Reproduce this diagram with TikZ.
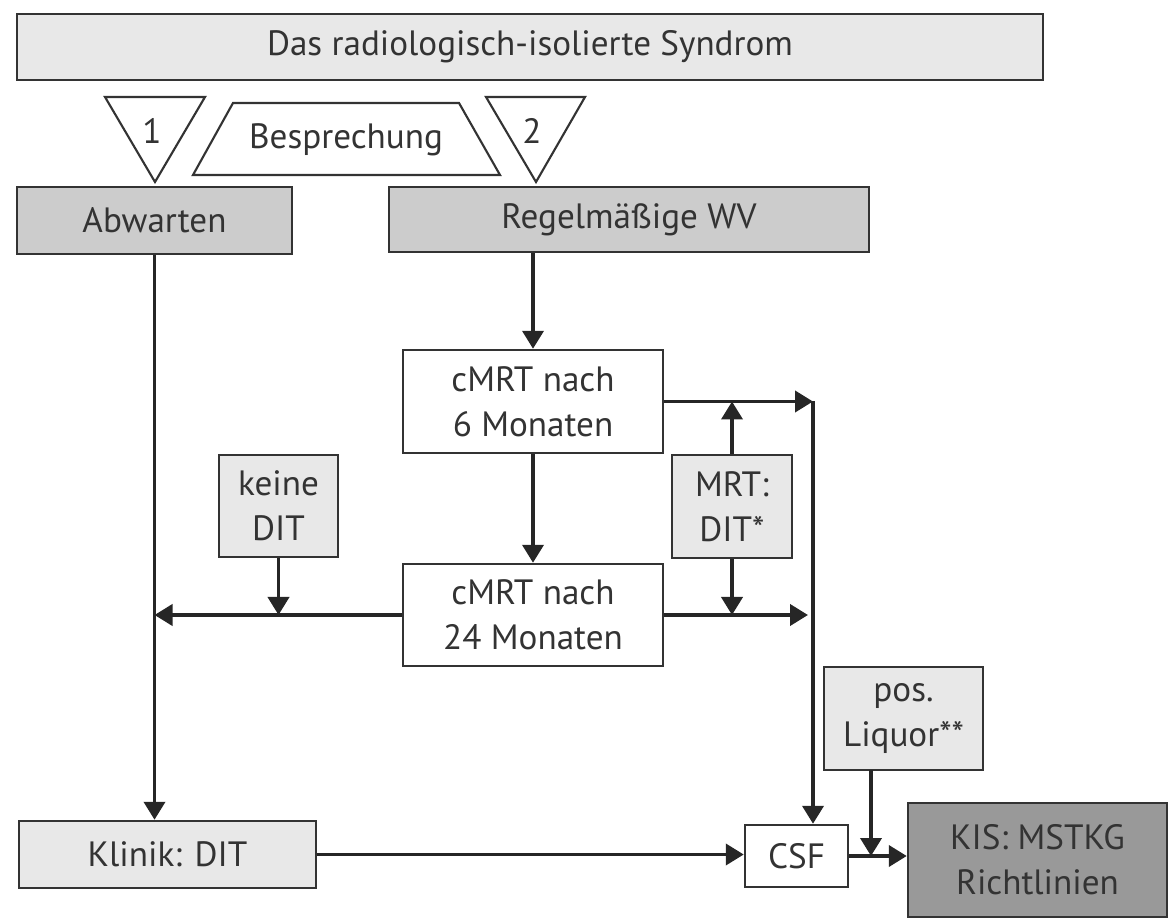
\documentclass[tikz,border=0pt]{standalone}
\usepackage{fontspec}
\setmainfont{PT Sans}
\usetikzlibrary{arrows.meta}

\tikzset{
	box/.style={draw=black!80, line width=0.7pt, align=center, inner sep=0pt,
		text=black!80, font=\fontsize{10pt}{12.8pt}\selectfont},
	boxwhite/.style={box, fill=white},
	boxlight/.style={box, fill=black!9},
	boxmid/.style={box, fill=black!20},
	boxdark/.style={box, fill=black!40},
	tag/.style={draw=black!80, line width=0.6pt, fill=white},
	flow/.style={line width=1.1pt, draw=black!85},
	flowarrow/.style={flow, -{Triangle[length=1.8mm,width=2.1mm]}},
}

\begin{document}
\begin{tikzpicture}
		\useasboundingbox (0,0) rectangle (11.73,-9.22);

		% Top row.
		\node[boxlight, minimum width=10.26cm, minimum height=0.66cm] (title) at (5.30,-0.47) {Das radiologisch-isolierte Syndrom};
		\draw[tag] (1.05,-0.97) -- (2.05,-0.97) -- (1.55,-1.82) -- cycle;
		\draw[tag] (2.33,-1.03) -- (4.59,-1.03) -- (5.00,-1.75) -- (1.93,-1.75) -- cycle;
		\draw[tag] (4.86,-0.97) -- (5.85,-0.97) -- (5.36,-1.82) -- cycle;
		\node[box, draw=none] (one) at (1.52,-1.31) {1};
		\node[box, draw=none] (talk) at (3.46,-1.40) {Besprechung};
		\node[box, draw=none] (two) at (5.32,-1.31) {2};

		\node[boxmid, minimum width=2.75cm, minimum height=0.67cm] (wait) at (1.545,-2.205) {Abwarten};
		\node[boxmid, minimum width=4.80cm, minimum height=0.65cm] (regular) at (6.29,-2.195) {Regelmäßige WV};

		% MRT follow-up.
		\node[boxwhite, minimum width=2.60cm, minimum height=1.03cm] (mri6) at (5.33,-4.015) {cMRT nach\\6 Monaten};
		\node[boxwhite, minimum width=2.60cm, minimum height=1.02cm] (mri24) at (5.33,-6.15) {cMRT nach\\24 Monaten};
		\node[boxlight, minimum width=1.20cm, minimum height=1.03cm] (mridit) at (7.32,-5.065) {MRT:\\DIT*};
		\node[boxlight, minimum width=1.19cm, minimum height=1.02cm] (nodit) at (2.785,-5.06) {keine\\DIT};

		% Bottom row.
		\node[boxlight, minimum width=2.97cm, minimum height=0.67cm] (clinic) at (1.675,-8.545) {Klinik: DIT};
		\node[boxwhite, minimum width=1.03cm, minimum height=0.62cm] (csf) at (7.965,-8.56) {CSF};
		\node[boxlight, minimum width=1.59cm, minimum height=1.03cm] (liquor) at (9.035,-7.185) {pos.\\Liquor**};
		\node[boxdark, minimum width=2.59cm, minimum height=1.14cm] (cis) at (10.375,-8.60) {KIS: MSTKG\\Richtlinien};

		\coordinate (topjoin) at (8.13,-4.015);
		\coordinate (lowjoin) at (8.08,-6.15);
		\coordinate (liqout) at (8.71,-7.70);

		\draw[flowarrow] (wait.south) -- (wait.south |- clinic.north);
		\draw[flowarrow] (mri6.north |- regular.south) -- (mri6.north);
		\draw[flowarrow] (mri6) -- (mri24);
		\draw[flowarrow] (mri6.east) -- (topjoin);
		\draw[flowarrow] (topjoin) -- (topjoin |- csf.north);
		\draw[flowarrow] (mridit.north) -- (mridit.north |- topjoin);
		\draw[flowarrow] (mridit.south) -- (mridit.south |- mri24.east);
		\draw[flowarrow] (mri24.east) -- (lowjoin);
		\draw[flowarrow] (mri24.west) -- (wait.south |- mri24.west);
		\draw[flowarrow] (nodit.south) -- (nodit.south |- mri24.west);
		\draw[flowarrow] (clinic.east) -- (clinic.east -| csf.west);
		\draw[flowarrow] (csf.east) -- (csf.east -| cis.west);
		\draw[flowarrow] (liqout) -- (liqout |- csf.east);
	\end{tikzpicture}
\end{document}
